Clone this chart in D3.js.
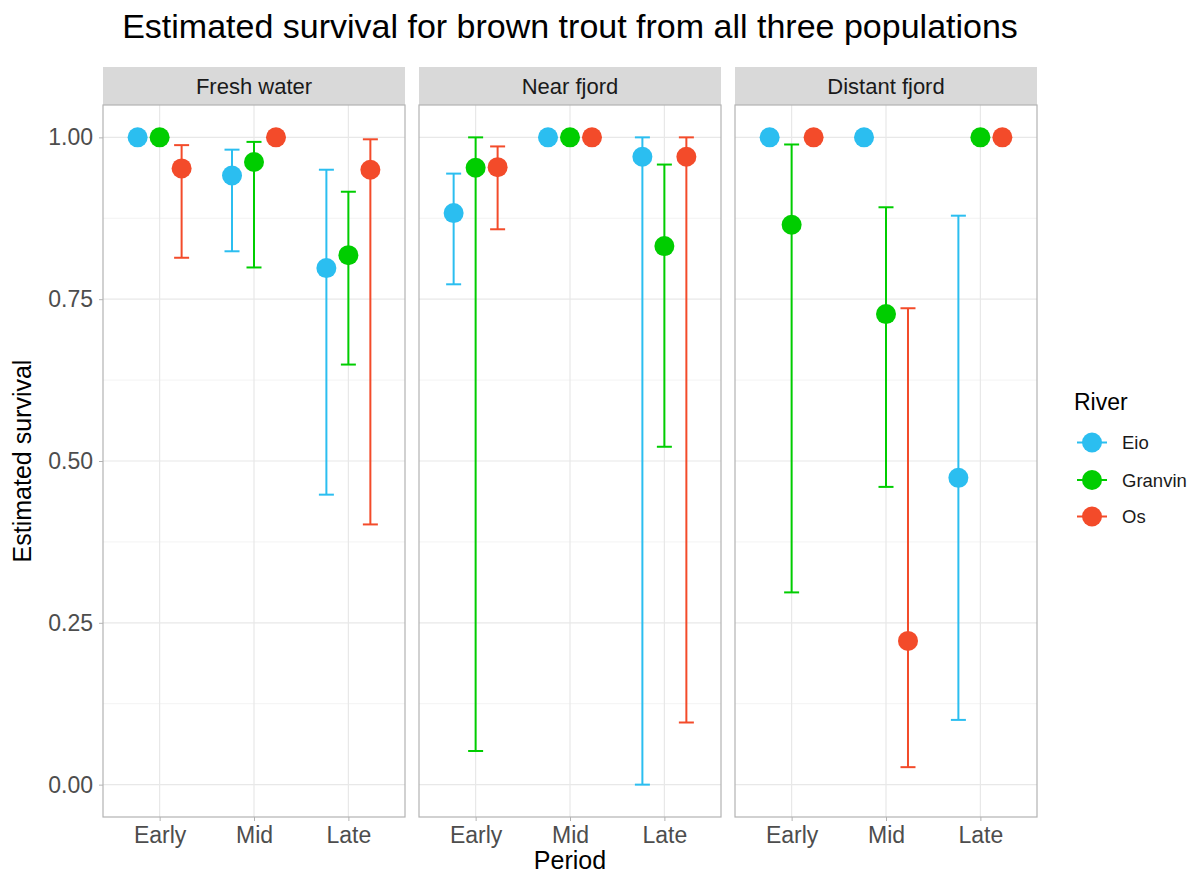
<!DOCTYPE html>
<html>
<head>
<meta charset="utf-8">
<script src="https://cdn.jsdelivr.net/npm/d3@7"></script>
<style>
  body { margin: 0; background: #fff; }
  svg { font-family: "Liberation Sans", Arial, sans-serif; }
</style>
</head>
<body>
<div class="chart-container"></div>
<script>
/* Data
   ========================================================================== */
var panels = ["Fresh water", "Near fjord", "Distant fjord"];
var periods = ["Early", "Mid", "Late"];
var rivers = ["Eio", "Granvin", "Os"];
var riverColors = ["#2bbef0", "#00cd00", "#f34b2a"];
var yTicks = [0, 0.25, 0.5, 0.75, 1];

// rows = river (Eio, Granvin, Os), columns = period (Early, Mid, Late)
var freshEst = [[1.00, 0.941, 0.798], [1.00, 0.962, 0.818], [0.952, 1.00, 0.950]];
var freshLo  = [[null, 0.824, 0.448], [null, 0.799, 0.649], [0.814, null, 0.402]];
var freshHi  = [[null, 0.981, 0.950], [null, 0.993, 0.916], [0.988, null, 0.997]];

var nearEst = [[0.883, 1.00, 0.970], [0.953, 1.00, 0.832], [0.954, 1.00, 0.970]];
var nearLo  = [[0.773, null, 0.000], [0.052, null, 0.522], [0.858, null, 0.096]];
var nearHi  = [[0.944, null, 1.000], [1.000, null, 0.958], [0.986, null, 1.000]];

var distantEst = [[1.00, 1.00, 0.474], [0.865, 0.727, 1.00], [1.00, 0.222, 1.00]];
var distantLo  = [[null, null, 0.100], [0.297, 0.460, null], [null, 0.027, null]];
var distantHi  = [[null, null, 0.879], [0.989, 0.892, null], [null, 0.736, null]];

var panelData = [
    { est: freshEst, lo: freshLo, hi: freshHi },
    { est: nearEst, lo: nearLo, hi: nearHi },
    { est: distantEst, lo: distantLo, hi: distantHi }
];

// flatten into rows
function rows(p) {
    var out = [];
    rivers.forEach(function(r, i) {
        periods.forEach(function(per, j) {
            out.push({ river: r, period: per, est: p.est[i][j], lo: p.lo[i][j], hi: p.hi[i][j] });
        });
    });
    return out;
}

/* Layout
   ========================================================================== */
var W = 1194, H = 874;
var panelLeft = 103, panelW = 302, panelGap = 14;
var plotTop = 105, plotBottom = 817, stripH = 38;

var svg = d3.select(".chart-container").append("svg")
    .attr("width", W)
    .attr("height", H);

var y = d3.scaleLinear().domain([-0.05, 1.05]).range([plotBottom, plotTop]);
var x = d3.scalePoint().domain(periods).range([0, panelW]).padding(0.6);
var dodge = d3.scalePoint().domain(rivers).range([-0.233 * x.step(), 0.233 * x.step()]);
var color = d3.scaleOrdinal().domain(rivers).range(riverColors);

// Title
svg.append("text")
    .attr("x", panelLeft + (3 * panelW + 2 * panelGap) / 2)
    .attr("y", 38)
    .attr("text-anchor", "middle")
    .style("font-size", "34px")
    .style("fill", "#000")
    .text("Estimated survival for brown trout from all three populations");

/* Panels
   ========================================================================== */
panels.forEach(function(name, k) {
    var g = svg.append("g")
        .attr("transform", "translate(" + (panelLeft + k * (panelW + panelGap)) + ",0)");

    // strip
    g.append("rect")
        .attr("x", 0).attr("y", plotTop - stripH)
        .attr("width", panelW).attr("height", stripH)
        .style("fill", "#d9d9d9");
    g.append("text")
        .attr("x", panelW / 2).attr("y", plotTop - 11)
        .attr("text-anchor", "middle")
        .style("font-size", "22px")
        .style("fill", "#1a1a1a")
        .text(name);

    // minor grid
    var minor = [0.125, 0.375, 0.625, 0.875];
    g.selectAll(".minor")
        .data(minor).enter().append("line")
        .attr("x1", 0).attr("x2", panelW)
        .attr("y1", function(d) { return y(d); })
        .attr("y2", function(d) { return y(d); })
        .style("stroke", "#f3f3f3").style("stroke-width", 1);

    // major grid
    g.selectAll(".hgrid")
        .data(yTicks).enter().append("line")
        .attr("x1", 0).attr("x2", panelW)
        .attr("y1", function(d) { return y(d); })
        .attr("y2", function(d) { return y(d); })
        .style("stroke", "#e8e8e8").style("stroke-width", 1.2);
    g.selectAll(".vgrid")
        .data(periods).enter().append("line")
        .attr("x1", function(d) { return x(d); })
        .attr("x2", function(d) { return x(d); })
        .attr("y1", plotTop).attr("y2", plotBottom)
        .style("stroke", "#e8e8e8").style("stroke-width", 1.2);

    // panel border
    g.append("rect")
        .attr("x", 0).attr("y", plotTop)
        .attr("width", panelW).attr("height", plotBottom - plotTop)
        .style("fill", "none")
        .style("stroke", "#b3b3b3").style("stroke-width", 1.2);

    // x axis
    var xAxis = g.append("g")
        .attr("transform", "translate(0," + plotBottom + ")")
        .call(d3.axisBottom(x).tickSize(4).tickPadding(6));
    xAxis.select(".domain").remove();
    xAxis.selectAll("line").style("stroke", "#b3b3b3");
    xAxis.selectAll("text")
        .style("font-size", "23px")
        .style("fill", "#4d4d4d")
        .style("font-family", "Liberation Sans, Arial, sans-serif");

    if (k === 0) {
        var yAxis = g.append("g")
            .call(d3.axisLeft(y).tickValues(yTicks).tickFormat(d3.format(".2f")).tickSize(4).tickPadding(6));
        yAxis.select(".domain").remove();
        yAxis.selectAll("line").style("stroke", "#b3b3b3");
        yAxis.selectAll("text")
            .style("font-size", "23px")
            .style("fill", "#4d4d4d")
            .style("font-family", "Liberation Sans, Arial, sans-serif");
    }

    var data = rows(panelData[k]);
    var bars = data.filter(function(d) { return d.lo !== null && d.hi !== null; });

    // error bars
    var eb = g.selectAll(".eb")
        .data(bars).enter().append("g")
        .style("stroke", function(d) { return color(d.river); })
        .style("stroke-width", 2);
    eb.append("line")
        .attr("x1", function(d) { return x(d.period) + dodge(d.river); })
        .attr("x2", function(d) { return x(d.period) + dodge(d.river); })
        .attr("y1", function(d) { return y(d.lo); })
        .attr("y2", function(d) { return y(d.hi); });
    eb.selectAll(".cap")
        .data(function(d) { return [{ d: d, v: d.lo }, { d: d, v: d.hi }]; })
        .enter().append("line")
        .attr("x1", function(c) { return x(c.d.period) + dodge(c.d.river) - 7.5; })
        .attr("x2", function(c) { return x(c.d.period) + dodge(c.d.river) + 7.5; })
        .attr("y1", function(c) { return y(c.v); })
        .attr("y2", function(c) { return y(c.v); });

    // points
    g.selectAll(".pt")
        .data(data).enter().append("circle")
        .attr("cx", function(d) { return x(d.period) + dodge(d.river); })
        .attr("cy", function(d) { return y(d.est); })
        .attr("r", 10)
        .style("fill", function(d) { return color(d.river); });
});

/* Axis titles
   ========================================================================== */
svg.append("text")
    .attr("x", panelLeft + (3 * panelW + 2 * panelGap) / 2)
    .attr("y", 869)
    .attr("text-anchor", "middle")
    .style("font-size", "25px")
    .text("Period");

svg.append("text")
    .attr("transform", "translate(31," + ((plotTop + plotBottom) / 2) + ") rotate(-90)")
    .attr("text-anchor", "middle")
    .style("font-size", "25px")
    .text("Estimated survival");

/* Legend
   ========================================================================== */
var legend = svg.append("g").attr("transform", "translate(1074,0)");
legend.append("text")
    .attr("x", 0).attr("y", 410)
    .style("font-size", "23px")
    .text("River");

var keyY = [442.5, 480, 516.5];
var key = legend.selectAll(".key")
    .data(rivers).enter().append("g")
    .attr("transform", function(d, i) { return "translate(0," + keyY[i] + ")"; });
key.append("line")
    .attr("x1", 3).attr("x2", 33)
    .style("stroke", function(d) { return color(d); })
    .style("stroke-width", 2);
key.append("circle")
    .attr("cx", 18).attr("r", 10)
    .style("fill", function(d) { return color(d); });
key.append("text")
    .attr("x", 48).attr("y", 6.5)
    .style("font-size", "18.5px")
    .style("fill", "#1a1a1a")
    .text(function(d) { return d; });
</script>
</body>
</html>
